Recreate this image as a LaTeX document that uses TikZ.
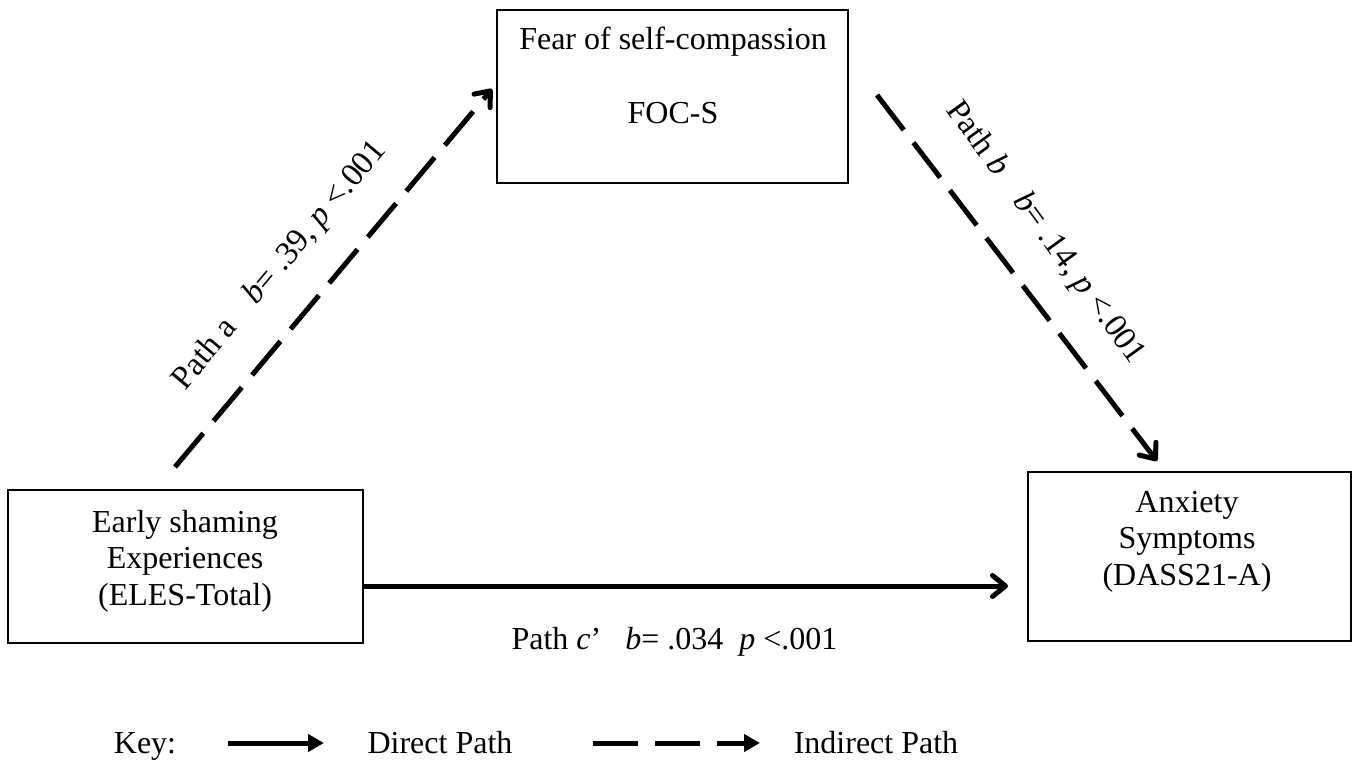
\documentclass[tikz,border=0pt]{standalone}
\usepackage{fontspec}
\setmainfont{Liberation Serif}
\usetikzlibrary{arrows.meta}
\begin{document}
\begin{tikzpicture}[x=1pt,y=-1pt,
  boxnode/.style={draw, line width=1.8pt, inner sep=0pt, rectangle},
  txt/.style={font=\fontsize{32}{37}\selectfont, inner sep=0pt, anchor=base},
  lbl/.style={font=\fontsize{33}{38}\selectfont, inner sep=0pt},
  mainarrow/.style={line width=5pt, -{Straight Barb[length=13pt,width=21pt,round]}},
  dasharrow/.style={mainarrow, dash pattern=on 44pt off 16pt},
  keyarrow/.style={line width=5pt, -{Triangle[length=16pt,width=17pt]}},
  keydash/.style={keyarrow, dash pattern=on 45pt off 17pt}]
\useasboundingbox (0,0) rectangle (1353,776);
% boxes
\node[boxnode, minimum width=351pt, minimum height=173pt] (foc) at (672.5,96.5) {};
\node[boxnode, minimum width=355pt, minimum height=153pt] (eles) at (185.5,566.5) {};
\node[boxnode, minimum width=323pt, minimum height=169pt] (dass) at (1189.5,556.5) {};
% box texts
\node[txt] (focA) at (673,50) {Fear of self-compassion};
\node[txt] (focB) at (673,124) {FOC-S};
\node[txt] (elesA) at (185,532) {Early shaming};
\node[txt] (elesB) at (185,568) {Experiences};
\node[txt] (elesC) at (185,605) {(ELES-Total)};
\node[txt] (dassA) at (1187,512) {Anxiety};
\node[txt] (dassB) at (1187,548) {Symptoms};
\node[txt] (dassC) at (1187,585) {(DASS21-A)};
% connectors
\coordinate (aS) at (175,467);
\coordinate (aE) at (492,89);
\coordinate (bS) at (877,95);
\coordinate (bE) at (1157,461);
\coordinate (cS) at (363,586);
\coordinate (cE) at (1008,586);
\draw[dasharrow] (aS) -- (aE);
\draw[dasharrow] (bS) -- (bE);
\draw[mainarrow] (cS) -- (cE);
% path labels
\node[lbl, rotate=50] (labA) at (280,266) {Path a\hspace{0.9em}\textit{b}= .39, \textit{p} <.001};
\node[lbl, rotate=-54] (labB) at (1045,233) {Path \textit{b}\hspace{0.9em}\textit{b}= .14, \textit{p} <.001};
\node[txt] (labC) at (674.5,649) {Path \textit{c}’\hspace{0.75em}\textit{b}= .034\hspace{0.5em}\textit{p} <.001};
% key
\node[txt] (key) at (145,753) {Key:};
\coordinate (k1S) at (228,743);
\coordinate (k1E) at (324,743);
\draw[keyarrow] (k1S) -- (k1E);
\node[txt] (kd) at (440,753) {Direct Path};
\coordinate (k2S) at (593,743);
\coordinate (k2E) at (760,743);
\draw[keydash] (k2S) -- (k2E);
\node[txt] (ki) at (876,753) {Indirect Path};
\end{tikzpicture}
\end{document}
